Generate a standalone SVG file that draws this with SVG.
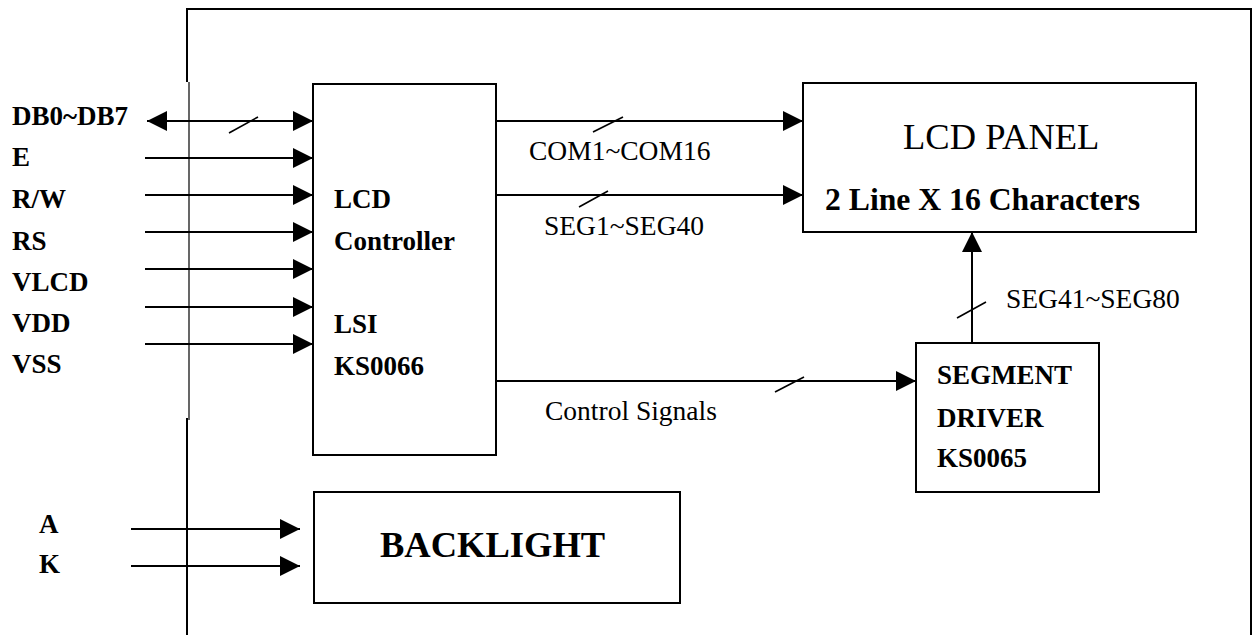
<svg xmlns="http://www.w3.org/2000/svg" width="1253" height="635" viewBox="0 0 1253 635">
<style>
.b{font-family:"Liberation Serif","Times New Roman",serif;font-weight:bold;font-size:27px;fill:#000}
.r{font-family:"Liberation Serif","Times New Roman",serif;font-size:27.5px;fill:#000}
.box{fill:none;stroke:#000;stroke-width:2}
.ln{fill:none;stroke:#000;stroke-width:2}
.sl{fill:none;stroke:#000;stroke-width:1.6}
</style>
<defs>
<marker id="ah" markerUnits="userSpaceOnUse" markerWidth="21" markerHeight="21" refX="20" refY="10" orient="auto-start-reverse" viewBox="0 0 21 21">
<path d="M0,0 L20,10 L0,20 z" fill="#000"/>
</marker>
</defs>
<rect width="1253" height="635" fill="#fff"/>
<g id="frame">
<path class="ln" d="M187,82 V9 H1251 V635"/>
<path fill="none" stroke="#000" stroke-width="1.2" d="M189,82 V420"/>
<path class="ln" d="M187,418 V635"/>
</g>
<g id="inputs">
<text class="b" x="12" y="125">DB0~DB7</text>
<text class="b" x="12" y="166">E</text>
<text class="b" x="12" y="208">R/W</text>
<text class="b" x="12" y="250">RS</text>
<text class="b" x="12" y="291">VLCD</text>
<text class="b" x="12" y="332">VDD</text>
<text class="b" x="12" y="373">VSS</text>
<text class="b" x="39" y="533">A</text>
<text class="b" x="39" y="573">K</text>
</g>
<g id="lcd-controller">
<rect class="box" x="313" y="84" width="183" height="371"/>
<text class="b" x="334" y="208">LCD</text>
<text class="b" x="334" y="250">Controller</text>
<text class="b" x="334" y="333">LSI</text>
<text class="b" x="334" y="375">KS0066</text>
</g>
<g id="lcd-panel">
<rect class="box" x="803" y="83" width="393" height="149"/>
<text class="r" x="903" y="149" style="font-size:36.5px">LCD PANEL</text>
<text class="b" x="825" y="210" style="font-size:31.7px">2 Line X 16 Characters</text>
</g>
<g id="segment-driver">
<rect class="box" x="916" y="343" width="183" height="149"/>
<text class="b" x="937" y="384">SEGMENT</text>
<text class="b" x="937" y="427">DRIVER</text>
<text class="b" x="937" y="467">KS0065</text>
</g>
<g id="backlight">
<rect class="box" x="314" y="492" width="366" height="111"/>
<text class="b" x="380" y="557" style="font-size:36.5px">BACKLIGHT</text>
</g>
<g id="connectors">
<line class="ln" x1="147" y1="121" x2="313" y2="121" marker-start="url(#ah)" marker-end="url(#ah)"/>
<line class="sl" x1="229" y1="133" x2="258" y2="117"/>
<line class="ln" x1="145" y1="158" x2="313" y2="158" marker-end="url(#ah)"/>
<line class="ln" x1="145" y1="195" x2="313" y2="195" marker-end="url(#ah)"/>
<line class="ln" x1="145" y1="232" x2="313" y2="232" marker-end="url(#ah)"/>
<line class="ln" x1="145" y1="269" x2="313" y2="269" marker-end="url(#ah)"/>
<line class="ln" x1="145" y1="307" x2="313" y2="307" marker-end="url(#ah)"/>
<line class="ln" x1="145" y1="344" x2="313" y2="344" marker-end="url(#ah)"/>
<line class="ln" x1="496" y1="121" x2="803" y2="121" marker-end="url(#ah)"/>
<line class="sl" x1="593" y1="132" x2="623" y2="117"/>
<text class="r" x="529" y="160">COM1~COM16</text>
<line class="ln" x1="496" y1="195" x2="803" y2="195" marker-end="url(#ah)"/>
<line class="sl" x1="579" y1="207" x2="608" y2="191"/>
<text class="r" x="544" y="235">SEG1~SEG40</text>
<line class="ln" x1="496" y1="381" x2="916" y2="381" marker-end="url(#ah)"/>
<line class="sl" x1="775" y1="392" x2="804" y2="377"/>
<text class="r" x="545" y="420">Control Signals</text>
<line class="ln" x1="972" y1="343" x2="972" y2="232" marker-end="url(#ah)"/>
<line class="sl" x1="957" y1="318" x2="986" y2="302"/>
<text class="r" x="1006" y="308">SEG41~SEG80</text>
<line class="ln" x1="131" y1="529" x2="300" y2="529" marker-end="url(#ah)"/>
<line class="ln" x1="131" y1="566" x2="300" y2="566" marker-end="url(#ah)"/>
</g>
</svg>
